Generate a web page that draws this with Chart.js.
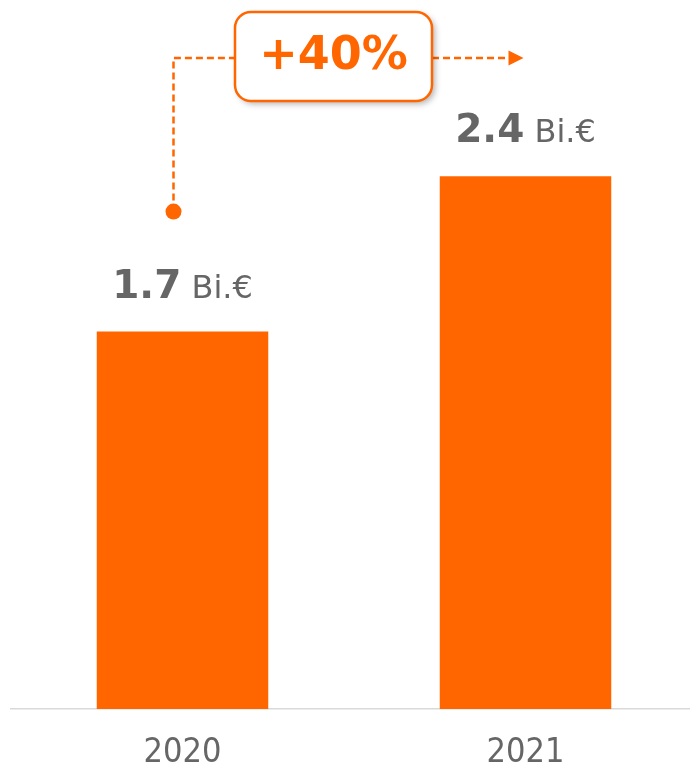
<!DOCTYPE html>
<html>
<head>
<meta charset="utf-8">
<script src="https://cdn.jsdelivr.net/npm/chart.js@4/dist/chart.umd.min.js"></script>
<style>
  html, body { margin: 0; padding: 0; background: #fff; overflow: hidden; }
  #wrap { width: 700px; height: 766px; }
</style>
</head>
<body>
<div id="wrap"><canvas id="revChart" width="700" height="766"></canvas></div>
<script>
const years = ["2020", "2021"];
const revenue = [1.7, 2.4];
const unit = "Bi.€";
const growthLabel = "+40%";

const ORANGE = "#FF6600";
const GRAY = "#666666";
const FONT = "'DejaVu Sans', Verdana, sans-serif";
const FONT_AXIS = "'DejaVu Sans Condensed', 'DejaVu Sans', sans-serif";

// value labels above each bar + the growth callout
const labelPlugin = {
  id: "labels",
  afterDatasetsDraw(chart) {
    const ctx = chart.ctx;
    const bars = chart.getDatasetMeta(0).data;
    ctx.save();
    bars.forEach((bar, i) => {
      const num = revenue[i].toFixed(1);
      ctx.font = "bold 39px " + FONT;
      const w1 = ctx.measureText(num).width;
      ctx.font = "32px " + FONT;
      const w2 = ctx.measureText(" " + unit).width;
      const x0 = bar.x - (w1 + w2) / 2;
      const y = bar.y - 34;
      ctx.fillStyle = GRAY;
      ctx.textBaseline = "alphabetic";
      ctx.textAlign = "left";
      ctx.font = "bold 39px " + FONT;
      ctx.fillText(num, x0, y);
      ctx.font = "32px " + FONT;
      ctx.fillText(" " + unit, x0 + w1, y);
    });

    // callout
    const a = bars[0], b = bars[1];
    const sx = a.x - 9, sy = a.y - 120;
    const ly = 58;
    const boxL = 235, boxR = 432, boxT = 12, boxB = 101;
    const tipX = b.x - 2;

    ctx.strokeStyle = ORANGE;
    ctx.lineWidth = 2.5;
    ctx.setLineDash([7, 4]);
    ctx.beginPath();
    ctx.moveTo(sx, sy);
    ctx.lineTo(sx, ly);
    ctx.lineTo(boxL, ly);
    ctx.moveTo(boxR, ly);
    ctx.lineTo(tipX - 12, ly);
    ctx.stroke();
    ctx.setLineDash([]);

    ctx.fillStyle = ORANGE;
    ctx.beginPath();
    ctx.moveTo(tipX, ly);
    ctx.lineTo(tipX - 15, ly - 7.5);
    ctx.lineTo(tipX - 15, ly + 7.5);
    ctx.closePath();
    ctx.fill();

    ctx.beginPath();
    ctx.arc(sx, sy, 8, 0, Math.PI * 2);
    ctx.fill();

    // box
    ctx.save();
    ctx.shadowColor = "rgba(0,0,0,0.3)";
    ctx.shadowBlur = 6;
    ctx.shadowOffsetX = 3;
    ctx.shadowOffsetY = 3;
    ctx.fillStyle = "#fff";
    ctx.beginPath();
    ctx.roundRect(boxL, boxT, boxR - boxL, boxB - boxT, 16);
    ctx.fill();
    ctx.restore();
    ctx.strokeStyle = ORANGE;
    ctx.lineWidth = 2.5;
    ctx.beginPath();
    ctx.roundRect(boxL, boxT, boxR - boxL, boxB - boxT, 16);
    ctx.stroke();

    ctx.fillStyle = ORANGE;
    ctx.font = "bold 46px " + FONT;
    ctx.textAlign = "center";
    ctx.textBaseline = "middle";
    ctx.fillText(growthLabel, (boxL + boxR) / 2, (boxT + boxB) / 2 + 1);
    ctx.restore();
  }
};

new Chart(document.getElementById("revChart"), {
  type: "bar",
  data: {
    labels: years,
    datasets: [{
      data: revenue,
      backgroundColor: ORANGE,
      borderWidth: 0,
      barPercentage: 1,
      categoryPercentage: 0.5
    }]
  },
  options: {
    responsive: false,
    animation: false,
    layout: { padding: { top: 43, left: 11, right: 3, bottom: 0 } },
    plugins: { legend: { display: false }, tooltip: { enabled: false } },
    scales: {
      x: {
        grid: { display: false },
        border: { display: true, color: "#d9d9d9", width: 1.5 },
        ticks: { color: GRAY, font: { family: FONT_AXIS, size: 34 }, padding: 16 },
        afterFit(scale) { scale.height = 57; }
      },
      y: {
        display: false,
        min: 0,
        max: 3.0
      }
    }
  },
  plugins: [labelPlugin]
});
</script>
</body>
</html>
